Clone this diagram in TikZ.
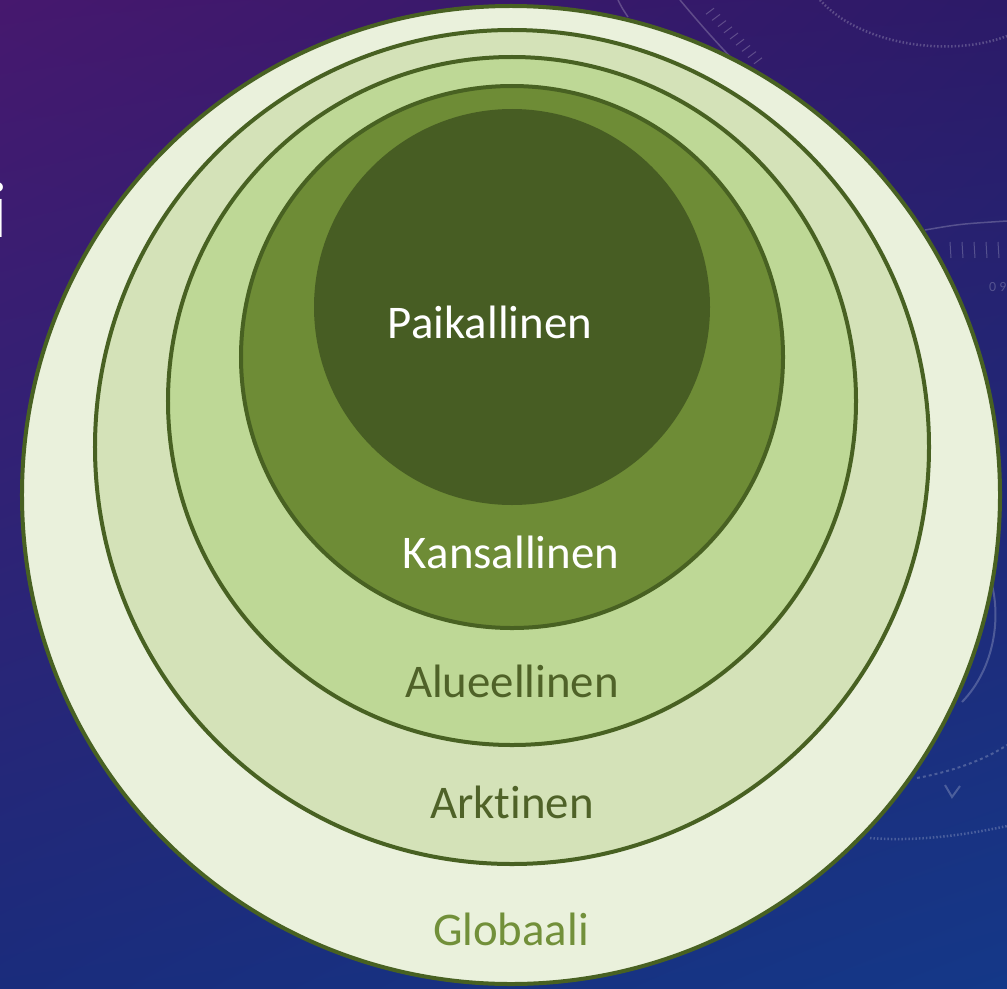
\documentclass[tikz,border=0pt]{standalone}
\usepackage{fontspec}
\setmainfont{Carlito}[Ligatures=NoCommon]
\usetikzlibrary{shadings,calc}
\definecolor{bgtl}{RGB}{70,24,110}
\definecolor{bgtr}{RGB}{44,26,104}
\definecolor{bgbl}{RGB}{26,44,124}
\definecolor{bgbr}{RGB}{20,56,136}
\definecolor{ringline}{RGB}{72,97,34}
\definecolor{globfill}{RGB}{234,241,220}
\definecolor{arktfill}{RGB}{212,226,184}
\definecolor{aluefill}{RGB}{190,216,150}
\definecolor{kansfill}{RGB}{110,140,54}
\definecolor{paikfill}{RGB}{71,93,35}
\definecolor{darktext}{RGB}{79,98,40}
\definecolor{globtext}{RGB}{114,144,58}

\begin{document}
\begin{tikzpicture}[x=1bp,y=-1bp,
  ring/.style={draw=ringline,line width=4bp},
  lbl/.style={anchor=base,font=\fontsize{47}{56}\selectfont},
  deco/.style={white,opacity=0.22,line width=1.5bp}]
  \clip (0,0) rectangle (1007,989);
  \shade[upper left=bgtl,upper right=bgtr,lower left=bgbl,lower right=bgbr]
    (0,0) rectangle (1007,989);

  % faint background marks
  \draw[deco] (618,0) .. controls (622,8) .. (628,17);
  \draw[deco] (680,0) .. controls (705,30) and (730,58) .. (765,92);
  \foreach \t in {0.1,0.2,...,0.9}
    \draw[deco,line width=1bp] ($(700,8)!\t!(760,70)$) -- ++(8,-6);
  \draw[deco,dotted,line width=2.5bp] (820,0) .. controls (860,45) and (950,58) .. (1007,36);
  \draw[deco] (925,230) .. controls (960,224) .. (1007,221);
  \foreach \xx in {950,962,974,986,998}
    \draw[deco,line width=1bp] (\xx,242) -- (\xx+1,258);
  \node[deco,font=\fontsize{14}{16}\selectfont,anchor=west] (dial) at (985,287) {0 9};
  \draw[deco,line width=2bp] (990,578) .. controls (1002,615) and (995,668) .. (962,702);
  \draw[deco,dashed,line width=2bp] (917,778) .. controls (950,772) and (985,760) .. (1007,745);
  \draw[deco,line width=2bp] (945,785) -- (952,797) -- (960,786);
  \draw[deco,dotted,line width=2.5bp] (870,838) .. controls (920,842) and (970,834) .. (1007,826);
  \node[text=white,anchor=base,inner sep=0pt,font=\fontsize{80}{90}\selectfont] (title) at (-1,237) {i};

  % rings, outer to inner
  \filldraw[ring,fill=globfill] (511,495) circle[radius=489bp];
  \filldraw[ring,fill=arktfill] (512,447) circle[radius=417bp];
  \filldraw[ring,fill=aluefill] (512,401) circle[radius=344bp];
  \filldraw[ring,fill=kansfill] (512,357) circle[radius=271bp];
  \fill[paikfill] (512,307) circle[radius=198bp];

  % labels
  \node[lbl,text=white] (paik) at (490,338) {Paikallinen};
  \node[lbl,text=white] (kans) at (511,568) {Kansallinen};
  \node[lbl,text=darktext] (alue) at (512,697) {Alueellinen};
  \node[lbl,text=darktext] (arkt) at (512,818) {Arktinen};
  \node[lbl,text=globtext] (glob) at (511,945) {Globaali};
\end{tikzpicture}
\end{document}
